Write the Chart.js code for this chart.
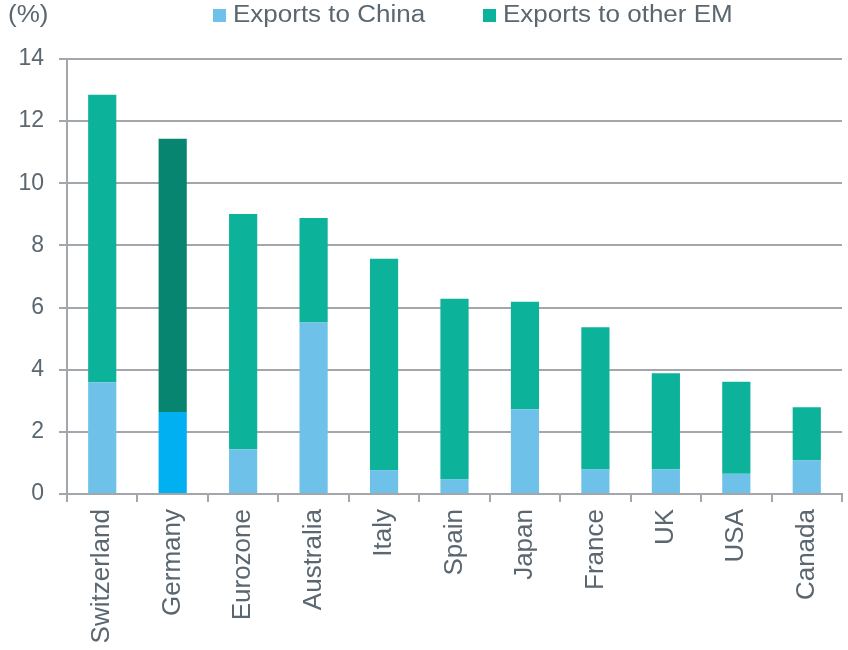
<!DOCTYPE html>
<html lang="en">
<head>
  <meta charset="UTF-8" />
  <title>Exports to emerging markets</title>
  <script src="https://cdn.jsdelivr.net/npm/chart.js"></script>
  <style>
    html, body { margin: 0; padding: 0; background: #fff; }
    #wrap { width: 848px; height: 650px; position: relative; }
  </style>
</head>
<body>
  <div id="wrap"><canvas id="chart" width="848" height="650"></canvas></div>

  <script>
    // values, % of GDP
    const countries = ['Switzerland', 'Germany', 'Eurozone', 'Australia', 'Italy', 'Spain',
                       'Japan', 'France', 'UK', 'USA', 'Canada'];
    const toChina   = [3.6, 2.64, 1.44, 5.52, 0.77, 0.48, 2.73, 0.8, 0.79, 0.65, 1.08];
    const toOtherEM = [9.25, 8.79, 7.57, 3.36, 6.8, 5.8, 3.46, 4.57, 3.1, 2.96, 1.71];
    const yTicks    = [0, 2, 4, 6, 8, 10, 12, 14];

    const highlight = 'Germany';
    const textColor = '#5b6770';
    const gridColor = '#a3a7ab';
    const font = '"Liberation Sans", Arial, sans-serif';

    const chinaColors = countries.map(c => c === highlight ? '#00b0f0' : '#6ec2e9');
    const otherColors = countries.map(c => c === highlight ? '#088571' : '#0cb29a');

    // legend and unit label, text a little stretched like the original
    const headerPlugin = {
      id: 'header',
      afterDraw(chart) {
        const ctx = chart.ctx;
        const sx = 1.13;
        ctx.save();
        ctx.font = '23px ' + font;
        ctx.textBaseline = 'middle';
        const text = (s, x, y) => {
          ctx.save();
          ctx.translate(x, y);
          ctx.scale(sx, 1);
          ctx.fillText(s, 0, 0);
          ctx.restore();
        };
        ctx.fillStyle = textColor;
        text('(%)', 8, 16);
        const items = [
          { x: 213, label: 'Exports to China', color: '#6ec2e9' },
          { x: 483, label: 'Exports to other EM', color: '#0cb29a' }
        ];
        items.forEach(it => {
          ctx.fillStyle = it.color;
          ctx.fillRect(it.x, 9, 13, 13);
          ctx.fillStyle = textColor;
          text(it.label, it.x + 20, 16);
        });
        ctx.restore();
      }
    };

    new Chart(document.getElementById('chart'), {
      type: 'bar',
      data: {
        labels: countries,
        datasets: [
          { label: 'Exports to China', data: toChina, backgroundColor: chinaColors },
          { label: 'Exports to other EM', data: toOtherEM, backgroundColor: otherColors }
        ]
      },
      options: {
        responsive: false,
        animation: false,
        layout: { padding: { top: 59, right: 6, left: 0, bottom: 0 } },
        datasets: { bar: { categoryPercentage: 1, barPercentage: 0.4 } },
        plugins: { legend: { display: false }, tooltip: { enabled: false } },
        scales: {
          x: {
            stacked: true,
            afterFit(scale) { scale.height = 156; },
            border: { color: gridColor, width: 2 },
            grid: { offset: true, drawOnChartArea: false, color: gridColor, lineWidth: 2, tickLength: 8 },
            ticks: {
              color: textColor,
              font: { family: font, size: 26 },
              minRotation: 90,
              maxRotation: 90,
              padding: 7,
              autoSkip: false
            }
          },
          y: {
            stacked: true,
            min: 0,
            max: 14,
            afterFit(scale) { scale.width = 67; },
            afterBuildTicks(scale) { scale.ticks = yTicks.map(v => ({ value: v })); },
            border: { color: gridColor, width: 2 },
            grid: { color: gridColor, lineWidth: 2, tickLength: 8 },
            ticks: {
              color: textColor,
              font: { family: font, size: 23 },
              padding: 15
            }
          }
        }
      },
      plugins: [headerPlugin]
    });
  </script>
</body>
</html>
